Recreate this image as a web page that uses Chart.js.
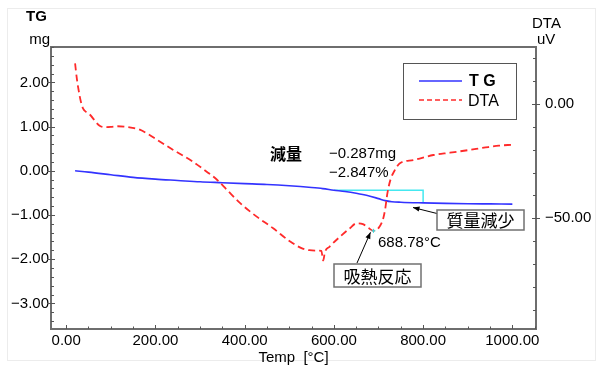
<!DOCTYPE html>
<html><head><meta charset="utf-8">
<script src="https://cdn.jsdelivr.net/npm/chart.js@4"></script>
<style>html,body{margin:0;padding:0;background:#fff}canvas{display:block}</style>
</head><body>
<canvas id="c" width="605" height="365"></canvas>
<script>
// TG curve (mass change, mg) against temperature (°C)
const TEMP_TG = [20, 50, 100, 150, 200, 250, 300, 350, 400, 450, 500, 550, 575, 600, 625, 650, 675, 700, 715, 730, 750, 800, 850, 900, 950, 1000];
const TG_MG   = [0, -0.03, -0.09, -0.15, -0.19, -0.22, -0.25, -0.27, -0.29, -0.31, -0.34, -0.38, -0.405, -0.44, -0.47, -0.51, -0.56, -0.63, -0.675, -0.70, -0.712, -0.727, -0.738, -0.745, -0.75, -0.755];

// DTA curve (uV) against temperature (°C)
const TEMP_DTA = [20, 24, 28, 33, 38, 45, 55, 65, 75, 85, 100, 115, 130, 145, 165, 185, 205, 240, 280, 315, 335, 360, 390, 427, 464, 502, 530, 545, 565, 572, 576, 580, 590, 614, 635, 651, 665, 678, 688.78, 700, 710, 715, 720, 727, 735, 748, 778, 823, 860, 900, 940, 970, 1000];
const DTA_UV   = [17.8, 11, 6, 1, -2, -3.5, -5, -7.5, -9.5, -10.1, -10.0, -9.7, -9.9, -10.3, -11.2, -13.3, -15.8, -20.1, -24.7, -29.6, -32.6, -37.5, -43.4, -49.3, -54.4, -60.2, -63.3, -64, -64.2, -64.3, -68.5, -64.8, -62.5, -58, -54.5, -52.2, -52.6, -54.3, -55.5, -54.3, -50.5, -46, -39, -33, -29.5, -25.9, -24.5, -22.3, -21.3, -20.2, -19, -18.2, -17.8];

// mass-loss step and endothermic peak
const LOSS_FROM_T = 600, LOSS_TO_T = 800;
const LOSS_LEVEL = -0.44;
const LOSS_MG = -0.287;
const LOSS_PCT = -2.847;
const PEAK_T = 688.78, PEAK_UV = -55.5;

// axis ranges and labelled ticks
const X_RANGE = [-34, 1053];
const TG_RANGE = [-3.58, 2.80];
const DTA_RANGE = [-98.5, 25];
const X_TICKS = [0, 200, 400, 600, 800, 1000];
const TG_TICKS = [-3, -2, -1, 0, 1, 2];
const DTA_TICKS = [-50, 0];

const LAT = '"Liberation Sans", Arial, sans-serif';
const CJK = '"Noto Sans CJK JP", sans-serif';
const fmt = v => (v < 0 ? '\u2212' : '') + Math.abs(v).toFixed(2);
const sgn = (v, d) => (v < 0 ? '\u2212' : '') + Math.abs(v).toFixed(d);

const tgPts = TEMP_TG.map((t, i) => ({x: t, y: TG_MG[i]}));
const dtaPts = TEMP_DTA.map((t, i) => ({x: t, y: DTA_UV[i]}));
const lossPts = [
  {x: LOSS_FROM_T, y: LOSS_LEVEL},
  {x: LOSS_TO_T, y: LOSS_LEVEL},
  {x: LOSS_TO_T, y: LOSS_LEVEL + LOSS_MG}
];

function arrow(ctx, x1, y1, x2, y2) {
  ctx.beginPath(); ctx.moveTo(x1, y1); ctx.lineTo(x2, y2); ctx.stroke();
  const a = Math.atan2(y2 - y1, x2 - x1), L = 7, W = 0.38;
  ctx.beginPath();
  ctx.moveTo(x2, y2);
  ctx.lineTo(x2 - L * Math.cos(a - W), y2 - L * Math.sin(a - W));
  ctx.lineTo(x2 - L * Math.cos(a + W), y2 - L * Math.sin(a + W));
  ctx.closePath(); ctx.fill();
}

function boxLabel(ctx, text, l, t, r, b) {
  ctx.fillStyle = '#fff';
  ctx.fillRect(l, t, r - l, b - t);
  ctx.strokeStyle = '#707070'; ctx.lineWidth = 1.5;
  ctx.strokeRect(l, t, r - l, b - t);
  ctx.fillStyle = '#000';
  ctx.font = '17px ' + CJK;
  ctx.textAlign = 'center'; ctx.textBaseline = 'middle';
  ctx.fillText(text, (l + r) / 2, (t + b) / 2 + 1);
}

const decor = {
  id: 'decor',
  beforeDraw(chart) {
    const ctx = chart.ctx;
    ctx.save();
    ctx.fillStyle = '#fff';
    ctx.fillRect(0, 0, chart.width, chart.height);
    ctx.strokeStyle = '#ececec'; ctx.lineWidth = 1;
    ctx.strokeRect(7.5, 8.5, 588, 352);
    ctx.restore();
  },
  afterDatasetsDraw(chart) {
    const {ctx, chartArea: a, scales} = chart;
    const x = scales.x, y = scales.y, y2 = scales.y2;
    ctx.save();

    // plot frame
    ctx.strokeStyle = '#6e6e6e'; ctx.lineWidth = 2;
    ctx.strokeRect(a.left, a.top, a.right - a.left, a.bottom - a.top);

    // tick marks
    ctx.strokeStyle = '#555'; ctx.lineWidth = 1;
    ctx.beginPath();
    for (let k = 0; k <= 21; k++) {
      const px = Math.round(x.getPixelForValue(k * 50)) + 0.5;
      if (px <= a.left || px >= a.right) continue;
      const len = k % 4 === 0 ? 4 : 2.5;
      ctx.moveTo(px, a.bottom); ctx.lineTo(px, a.bottom - len);
    }
    for (let k = -17; k <= 14; k++) {
      const py = Math.round(y.getPixelForValue(k * 0.2)) + 0.5;
      if (py <= a.top || py >= a.bottom) continue;
      if (k % 5 === 0) { ctx.moveTo(a.left - 4, py); ctx.lineTo(a.left + 4, py); }
      else { ctx.moveTo(a.left, py); ctx.lineTo(a.left + 3, py); }
    }
    for (let k = -9; k <= 2; k++) {
      const py = Math.round(y2.getPixelForValue(k * 10)) + 0.5;
      if (py <= a.top || py >= a.bottom) continue;
      if (k % 5 === 0) { ctx.moveTo(a.right - 4, py); ctx.lineTo(a.right + 4, py); }
      else { ctx.moveTo(a.right - 3, py); ctx.lineTo(a.right, py); }
    }
    ctx.stroke();

    // axis titles
    ctx.fillStyle = '#000';
    ctx.textBaseline = 'alphabetic';
    ctx.textAlign = 'left';
    ctx.font = 'bold 15px ' + LAT;
    ctx.fillText('TG', 26, 21);
    ctx.font = '15px ' + LAT;
    ctx.textAlign = 'right';
    ctx.fillText('mg', 50, 44);
    ctx.textAlign = 'left';
    ctx.fillText('DTA', 532, 28);
    ctx.fillText('uV', 537, 44);
    ctx.textAlign = 'center';
    ctx.fillText('Temp  [\u00B0C]', (a.left + a.right) / 2, 362);

    // mass-loss annotation
    ctx.textAlign = 'left';
    ctx.font = 'bold 16px ' + CJK;
    ctx.textBaseline = 'middle';
    ctx.fillText('減量', 270, 154);
    ctx.font = '15px ' + LAT;
    ctx.fillText(sgn(LOSS_MG, 3) + 'mg', 329, 154);
    ctx.fillText(sgn(LOSS_PCT, 3) + '%', 329, 173);

    // endothermic peak marker and temperature
    const pkx = x.getPixelForValue(PEAK_T), pky = y2.getPixelForValue(PEAK_UV);
    ctx.strokeStyle = '#33dddd'; ctx.lineWidth = 1;
    ctx.beginPath();
    ctx.moveTo(pkx - 2, pky); ctx.lineTo(pkx + 2, pky);
    ctx.moveTo(pkx, pky - 2); ctx.lineTo(pkx, pky + 2);
    ctx.stroke();
    ctx.fillStyle = '#000';
    ctx.fillText(PEAK_T.toFixed(2) + '\u00B0C', 378, 243);

    // callouts
    ctx.strokeStyle = '#000'; ctx.fillStyle = '#000'; ctx.lineWidth = 1;
    arrow(ctx, 437, 213.5, 413, 207.5);
    arrow(ctx, 357, 263, pkx - 3, pky + 1.5);
    boxLabel(ctx, '質量減少', 437, 210, 524, 230);
    boxLabel(ctx, '吸熱反応', 334, 264, 421, 287);

    // legend
    const ds = chart.data.datasets;
    ctx.fillStyle = '#fff';
    ctx.fillRect(403, 63, 113, 56);
    ctx.strokeStyle = '#555'; ctx.lineWidth = 1;
    ctx.strokeRect(403.5, 63.5, 113, 56);
    ctx.lineWidth = 1.5;
    ctx.strokeStyle = ds[0].borderColor;
    ctx.beginPath(); ctx.moveTo(419, 81); ctx.lineTo(462, 81); ctx.stroke();
    ctx.strokeStyle = ds[1].borderColor;
    ctx.setLineDash([5, 3]);
    ctx.beginPath(); ctx.moveTo(419, 100); ctx.lineTo(462, 100); ctx.stroke();
    ctx.setLineDash([]);
    ctx.fillStyle = '#000';
    ctx.textAlign = 'left'; ctx.textBaseline = 'middle';
    ctx.font = 'bold 16px ' + LAT;
    ctx.fillText('T G', 469, 82);
    ctx.font = '16px ' + LAT;
    ctx.fillText(ds[1].label, 468, 102);

    ctx.restore();
  }
};

const tickFont = {family: LAT, size: 15};

new Chart(document.getElementById('c'), {
  type: 'line',
  data: {
    datasets: [
      {label: 'TG', data: tgPts, yAxisID: 'y', borderColor: '#3333ff', borderWidth: 1.6,
       pointRadius: 0, cubicInterpolationMode: 'monotone', order: 1},
      {label: 'DTA', data: dtaPts, yAxisID: 'y2', borderColor: '#ff2a2a', borderWidth: 1.8,
       borderDash: [7, 4], pointRadius: 0, cubicInterpolationMode: 'monotone', order: 0},
      {label: 'loss', data: lossPts, yAxisID: 'y', borderColor: '#44e8f0', borderWidth: 1.5,
       pointRadius: 0, tension: 0, order: 2}
    ]
  },
  options: {
    responsive: false,
    animation: false,
    devicePixelRatio: 1,
    layout: {padding: {top: 47, left: 0, right: 0, bottom: 0}},
    plugins: {legend: {display: false}, tooltip: {enabled: false}},
    scales: {
      x: {
        type: 'linear', position: 'bottom', min: X_RANGE[0], max: X_RANGE[1],
        grid: {display: false, drawTicks: false}, border: {display: false},
        afterBuildTicks: s => { s.ticks = X_TICKS.map(v => ({value: v})); },
        afterFit: s => { s.height = 36; },
        ticks: {callback: fmt, padding: 3, font: tickFont, color: '#000', autoSkip: false, maxRotation: 0}
      },
      y: {
        type: 'linear', position: 'left', min: TG_RANGE[0], max: TG_RANGE[1],
        grid: {display: false, drawTicks: false}, border: {display: false},
        afterBuildTicks: s => { s.ticks = TG_TICKS.map(v => ({value: v})); },
        afterFit: s => { s.width = 51; },
        ticks: {callback: fmt, padding: 2, font: tickFont, color: '#000', autoSkip: false}
      },
      y2: {
        type: 'linear', position: 'right', min: DTA_RANGE[0], max: DTA_RANGE[1],
        grid: {display: false, drawTicks: false}, border: {display: false},
        afterBuildTicks: s => { s.ticks = DTA_TICKS.map(v => ({value: v})); },
        afterFit: s => { s.width = 69; },
        ticks: {callback: fmt, padding: 9, font: tickFont, color: '#000', autoSkip: false}
      }
    }
  },
  plugins: [decor]
});
</script>
</body></html>
